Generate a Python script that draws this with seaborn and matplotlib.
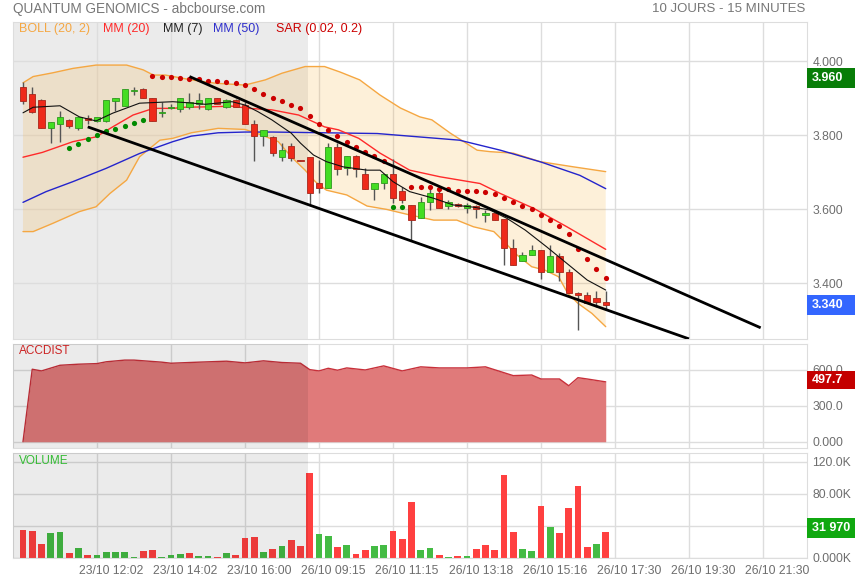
import numpy as np
import pandas as pd
import seaborn as sns
import matplotlib.pyplot as plt
from matplotlib.patches import Rectangle
from matplotlib.transforms import ScaledTranslation, blended_transform_factory

sns.set_style('white')
plt.rcParams['font.family'] = ['Liberation Sans', 'DejaVu Sans']

# candles, 15 minutes each (index 0 = first candle of 23/10)
opens = [3.929, 3.911, 3.894, 3.818, 3.829, 3.840, 3.818, 3.845, 3.837, 3.837,
         3.893, 3.878, 3.920, 3.924, 3.899, 3.860, 3.872, 3.870, 3.875, 3.883,
         3.870, 3.899, 3.875, 3.894, 3.880, 3.829, 3.798, 3.794, 3.741, 3.769,
         3.733, 3.741, 3.669, 3.658, 3.768, 3.712, 3.743, 3.695, 3.653, 3.669,
         3.695, 3.648, 3.612, 3.576, 3.619, 3.642, 3.608, 3.613, 3.604, 3.608,
         3.583, 3.588, 3.572, 3.494, 3.459, 3.477, 3.488, 3.429, 3.472, 3.429,
         3.372, 3.367, 3.359, 3.349]
highs = [3.944, 3.929, 3.896, 3.834, 3.866, 3.842, 3.848, 3.853, 3.848, 3.894,
         3.899, 3.924, 3.929, 3.926, 3.899, 3.889, 3.885, 3.899, 3.913, 3.913,
         3.899, 3.900, 3.896, 3.896, 3.888, 3.840, 3.813, 3.798, 3.778, 3.778,
         3.733, 3.741, 3.732, 3.778, 3.778, 3.743, 3.745, 3.710, 3.669, 3.695,
         3.734, 3.660, 3.612, 3.632, 3.660, 3.653, 3.624, 3.616, 3.617, 3.610,
         3.597, 3.590, 3.572, 3.518, 3.485, 3.502, 3.488, 3.502, 3.482, 3.437,
         3.377, 3.377, 3.378, 3.378]
lows = [3.884, 3.859, 3.818, 3.778, 3.780, 3.818, 3.813, 3.829, 3.835, 3.834,
        3.866, 3.878, 3.907, 3.899, 3.839, 3.848, 3.870, 3.861, 3.870, 3.870,
        3.868, 3.883, 3.872, 3.875, 3.829, 3.731, 3.771, 3.744, 3.731, 3.731,
        3.731, 3.612, 3.644, 3.658, 3.692, 3.692, 3.686, 3.653, 3.624, 3.653,
        3.616, 3.616, 3.514, 3.576, 3.597, 3.604, 3.600, 3.605, 3.590, 3.575,
        3.566, 3.570, 3.449, 3.449, 3.459, 3.477, 3.410, 3.429, 3.405, 3.372,
        3.273, 3.347, 3.336, 3.329]
closes = [3.893, 3.863, 3.818, 3.834, 3.848, 3.824, 3.848, 3.840, 3.848, 3.894,
          3.899, 3.924, 3.922, 3.899, 3.839, 3.862, 3.877, 3.899, 3.888, 3.894,
          3.899, 3.883, 3.894, 3.875, 3.829, 3.798, 3.813, 3.752, 3.759, 3.739,
          3.731, 3.642, 3.658, 3.768, 3.707, 3.743, 3.707, 3.653, 3.669, 3.695,
          3.629, 3.624, 3.570, 3.619, 3.642, 3.604, 3.619, 3.608, 3.610, 3.599,
          3.588, 3.570, 3.494, 3.449, 3.477, 3.488, 3.431, 3.472, 3.429, 3.372,
          3.367, 3.347, 3.349, 3.340]

# volume (shares) and its colour (G = up, R = down vs previous close)
volume = [34700, 33500, 17800, 31000, 32700, 6600, 12000, 3700, 4100, 7900,
          7900, 7900, 1700, 9100, 10300, 1700, 4100, 5400, 5800, 2900,
          2100, 1700, 5800, 3700, 25200, 26100, 7400, 10800, 15300, 22700,
          15300, 105900, 30200, 26900, 13600, 15700, 5400, 10300, 15300, 16500,
          33900, 23600, 69500, 10300, 12000, 4100, 1700, 2900, 2900, 11200,
          16100, 10300, 103400, 32700, 10800, 8700, 64900, 38100, 30600, 62000,
          89800, 13200, 17800, 31970]
vol_dir = list('RRRGGRGRGG' 'GGGRRGGGRG' 'GRGRRRGRGR' 'RRGGRGRRGG'
               'RRRGGRGRGR' 'RRRRGGRGRR' 'RRGR')

# indicators (candle index, value)
mm50_x = [0, 2.5, 5.4, 9, 12.6, 16.2, 18.2, 21.1, 24, 27, 32.6, 38.3, 47.2, 51.6, 56, 60.2, 63]
mm50_v = [3.618, 3.647, 3.674, 3.710, 3.750, 3.782, 3.797, 3.806, 3.808, 3.808,
          3.806, 3.804, 3.786, 3.759, 3.727, 3.691, 3.655]

mm20_x = [0, 2.1, 5.4, 7.9, 9.7, 11.9, 14.1, 16.2, 17.5, 19.7, 22.6, 24.4, 26.9,
          29.8, 32.6, 34.1, 36.3, 38.6, 41.8, 45.1, 49.4, 51.6, 55.2, 58.8, 63]
mm20_v = [3.740, 3.753, 3.782, 3.795, 3.822, 3.854, 3.872, 3.872, 3.875, 3.876,
          3.878, 3.872, 3.868, 3.854, 3.822, 3.814, 3.791, 3.751, 3.705, 3.687,
          3.669, 3.642, 3.602, 3.552, 3.491]

mm7_x = [0, 1.1, 4, 6.1, 7.9, 9.7, 12.6, 16.2, 17.9, 19.7, 22.6, 24, 25.4, 26.9,
         29, 30, 31.4, 32.8, 34.6, 37.2, 38.6, 40, 41.8, 44.4, 46.5, 48.7, 50.5,
         52.3, 54.3, 56.6, 58.8, 61, 63]
mm7_v = [3.860, 3.875, 3.879, 3.849, 3.838, 3.859, 3.886, 3.890, 3.887, 3.883,
         3.890, 3.881, 3.863, 3.841, 3.805, 3.778, 3.746, 3.728, 3.714, 3.705,
         3.705, 3.674, 3.647, 3.629, 3.611, 3.605, 3.597, 3.575, 3.543, 3.498,
         3.453, 3.408, 3.381]

boll_up_x = [0, 1.1, 3.2, 5.4, 7.9, 11.2, 13, 14.1, 15.4, 18.2, 20.8, 24, 26.2,
             28, 30.5, 32.6, 34.3, 36.4, 38.6, 40.8, 42.9, 44.2, 46.2, 49.1,
             50.5, 53, 55.9, 59.5, 63]
boll_up_v = [3.941, 3.958, 3.968, 3.980, 3.989, 3.989, 3.976, 3.962, 3.962, 3.949,
             3.940, 3.935, 3.949, 3.967, 3.985, 3.985, 3.970, 3.949, 3.908, 3.873,
             3.849, 3.841, 3.805, 3.759, 3.755, 3.751, 3.728, 3.714, 3.701]
boll_lo_x = [0, 1.1, 3.2, 6.1, 7.9, 9.4, 11.2, 12.6, 14.8, 16.2, 18.2, 21.1, 24,
             25.8, 27.6, 29, 30.5, 31.6, 32.8, 35, 37.2, 39.3, 41.8, 44.4, 46.9,
             48.7, 50.9, 52.2, 53.2, 55, 56.4, 57.9, 58.9, 60, 61.5, 63]
boll_lo_v = [3.539, 3.539, 3.561, 3.593, 3.606, 3.642, 3.678, 3.741, 3.786, 3.791,
             3.806, 3.818, 3.815, 3.800, 3.782, 3.741, 3.705, 3.674, 3.651, 3.638,
             3.608, 3.599, 3.584, 3.570, 3.570, 3.552, 3.539, 3.507, 3.480, 3.444,
             3.435, 3.417, 3.372, 3.345, 3.318, 3.282]

sar_up_x = [5, 6, 7, 8, 9, 10, 11, 12, 13, 40, 41]
sar_up_v = [3.766, 3.777, 3.788, 3.799, 3.811, 3.817, 3.825, 3.833, 3.841, 3.605, 3.605]
sar_dn_x = list(range(14, 40)) + list(range(42, 64))
sar_dn_v = [3.960, 3.958, 3.958, 3.955, 3.951, 3.951, 3.947, 3.947, 3.942, 3.941,
            3.935, 3.924, 3.912, 3.901, 3.892, 3.882, 3.874, 3.851, 3.830, 3.814,
            3.798, 3.782, 3.768, 3.755, 3.742, 3.731,
            3.659, 3.659, 3.659, 3.655, 3.653, 3.649, 3.649, 3.649, 3.647, 3.641,
            3.631, 3.619, 3.609, 3.601, 3.585, 3.570, 3.554, 3.533, 3.493, 3.465,
            3.438, 3.414]

# drawn trend lines (two end points each)
trend_hi_x = [18, 79.75]
trend_hi_v = [3.958, 3.279]
trend_lo_x = [7, 72]
trend_lo_v = [3.822, 3.249]

acc_x = [0, 1, 2, 4, 6, 8, 9, 11, 12, 15, 16, 19, 22, 24, 26, 28, 30, 31, 32, 33,
         34, 35, 37, 39, 41, 43, 45, 48, 50, 53, 55, 56, 58, 59, 60, 61, 63]
acc_v = [0, 603, 589, 636, 645, 650, 665, 679, 679, 662, 653, 662, 670, 656, 673,
         659, 653, 600, 589, 611, 595, 614, 597, 631, 589, 623, 614, 614, 623, 550,
         555, 522, 522, 466, 533, 522, 498]

tick_pos = [8, 16, 24, 32, 40, 48, 56, 64, 72, 80]
tick_lab = ['23/10 12:02', '23/10 14:02', '23/10 16:00', '26/10 09:15', '26/10 11:15',
            '26/10 13:18', '26/10 15:16', '26/10 17:30', '26/10 19:30', '26/10 21:30']
prev_day_end = 30.8

W, H = 855, 580
fig = plt.figure(figsize=(W / 100, H / 100), dpi=100)
L, Wd = 13 / W, 794 / W
ax_p = fig.add_axes([L, 1 - 339 / H, Wd, 317 / H])
ax_a = fig.add_axes([L, 1 - 448 / H, Wd, 104 / H])
ax_v = fig.add_axes([L, 1 - 558 / H, Wd, 105 / H])

grid_c = '#dddddd'
lab_c = '#6e6e6e'
for ax in (ax_p, ax_a, ax_v):
    ax.set_xlim(-1.08, 84.76)
    ax.set_axisbelow(True)
    ax.grid(True, color=grid_c, lw=1)
    for s in ax.spines.values():
        s.set_color(grid_c)
    ax.yaxis.tick_right()
    ax.tick_params(length=0, labelsize=8.7, labelcolor=lab_c, pad=4)
    ax.set_xticks(tick_pos)
    ax.set_xlabel('')
    ax.set_ylabel('')

# ---- price panel
ax_p.axvspan(-1.08, prev_day_end, color='#ebebeb', lw=0, zorder=0)
ax_p.fill(boll_up_x + boll_lo_x[::-1], boll_up_v + boll_lo_v[::-1],
          color='#f5a623', alpha=0.17, lw=0, zorder=1)
sns.lineplot(x=boll_up_x, y=boll_up_v, color='#f5a742', lw=1, ax=ax_p, zorder=2)
sns.lineplot(x=boll_lo_x, y=boll_lo_v, color='#f5a742', lw=1, ax=ax_p, zorder=2)
sns.lineplot(x=mm50_x, y=mm50_v, color='#2424cc', lw=1, ax=ax_p, zorder=2)
sns.lineplot(x=mm20_x, y=mm20_v, color='#ff2a2a', lw=1, ax=ax_p, zorder=2)

idx = np.arange(len(opens))
o, h, l, c = map(np.array, (opens, highs, lows, closes))
up = c >= o
ax_p.vlines(idx, l, h, color='#555555', lw=1, zorder=3)
body = np.maximum(np.abs(c - o), 0.002)
ax_p.bar(idx, body, bottom=np.minimum(o, c), width=0.66,
         color=np.where(up, '#44dd22', '#ee2a1a'),
         edgecolor=np.where(up, '#2e9a1e', '#a8261a'), lw=0.6, zorder=4)

sns.lineplot(x=mm7_x, y=mm7_v, color='#111111', lw=0.8, ax=ax_p, zorder=5)
sns.scatterplot(x=sar_dn_x, y=sar_dn_v, color='#cc0000', s=14, linewidth=0, ax=ax_p, zorder=6)
sns.scatterplot(x=sar_up_x, y=sar_up_v, color='#008a00', s=14, linewidth=0, ax=ax_p, zorder=6)
ax_p.plot(trend_hi_x, trend_hi_v, color='black', lw=2, zorder=7, solid_capstyle='butt')
ax_p.plot(trend_lo_x, trend_lo_v, color='black', lw=2, zorder=7, solid_capstyle='butt')

ax_p.set_ylim(3.2487, 4.1054)
ax_p.set_yticks([3.4, 3.6, 3.8, 4.0])
ax_p.set_yticklabels(['3.400', '3.600', '3.800', '4.000'])
ax_p.set_xticklabels([])

# ---- accumulation / distribution
ax_a.fill_between(acc_x, acc_v, 0, color='#e07a7a', lw=0, zorder=2)
sns.lineplot(x=acc_x, y=acc_v, color='#c8303a', lw=1, ax=ax_a, zorder=3)
ax_a.axvspan(-1.08, prev_day_end, color='black', alpha=0.08, lw=0, zorder=4)
ax_a.set_ylim(-52, 813)
ax_a.set_yticks([0, 300, 600])
ax_a.set_yticklabels(['0.000', '300.0', '600.0'])
ax_a.set_xticklabels([])

# ---- volume
vol_col = ['#44bb44' if d == 'G' else '#ff4040' for d in vol_dir]
ax_v.bar(idx, volume, width=0.72, color=vol_col, lw=0, zorder=2)
ax_v.axvspan(-1.08, prev_day_end, color='black', alpha=0.08, lw=0, zorder=4)
ax_v.set_ylim(0, 130900)
ax_v.set_yticks([0, 40000, 80000, 120000])
ax_v.set_yticklabels(['0.000K', '40.00K', '80.00K', '120.0K'])
ax_v.set_xticklabels(tick_lab)
ax_v.tick_params(axis='x', pad=5)
shift = ScaledTranslation(14 / 100, 0, fig.dpi_scale_trans)
for t in ax_v.get_xticklabels():
    t.set_transform(t.get_transform() + shift)


def value_box(ax, y, text, fc, half):
    tr = blended_transform_factory(ax.transAxes, ax.transData)
    ax.add_patch(Rectangle((1.0, y - half), 48 / 794, 2 * half, transform=tr,
                           facecolor=fc, edgecolor='none', clip_on=False, zorder=10))
    ax.text(1.0 + 5 / 794, y, text, transform=tr, color='white', fontsize=9,
            fontweight='bold', va='center', ha='left', zorder=11, clip_on=False)


value_box(ax_p, 3.955, '3.960', '#087d08', 0.027)
value_box(ax_p, closes[-1], '3.340', '#3366ff', 0.027)
value_box(ax_a, 515, '497.7', '#c40000', 75)
value_box(ax_v, 37500, '31 970', '#10a810', 12500)

# ---- texts
fig.text(13 / W, 1 - 9 / H, 'QUANTUM GENOMICS - abcbourse.com', color='#777777',
         fontsize=9.8, va='center')
fig.text(805 / W, 1 - 9 / H, '10 JOURS - 15 MINUTES', color='#777777',
         fontsize=9.5, va='center', ha='right')
legend = [('BOLL (20, 2)', '#f5a742', 19), ('MM (20)', '#ff2a2a', 103),
          ('MM (7)', '#222222', 163), ('MM (50)', '#3030cc', 213),
          ('SAR (0.02, 0.2)', '#cc0000', 276)]
for txt, col, px in legend:
    fig.text(px / W, 1 - 29 / H, txt, color=col, fontsize=9, va='center')
fig.text(19 / W, 1 - 351 / H, 'ACCDIST', color='#cc2222', fontsize=8.5, va='center')
fig.text(19 / W, 1 - 461 / H, 'VOLUME', color='#33bb33', fontsize=8.5, va='center')

fig.savefig('out.png', dpi=100)
